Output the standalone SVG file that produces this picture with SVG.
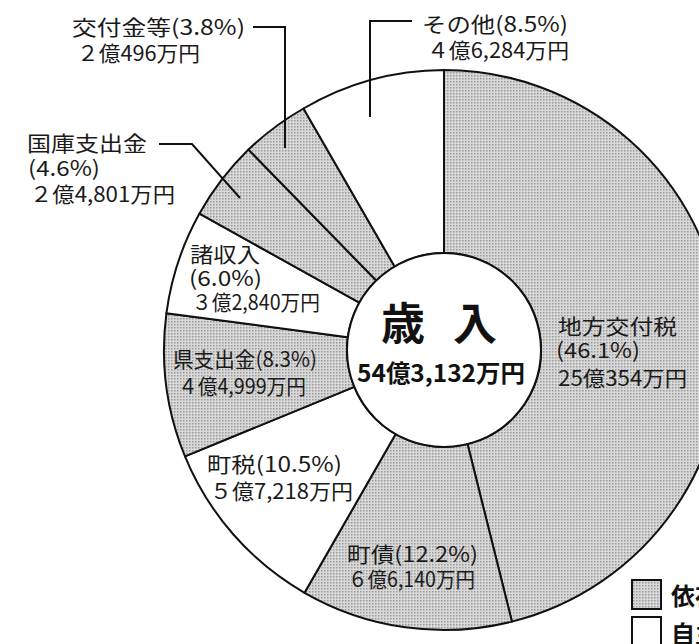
<svg xmlns="http://www.w3.org/2000/svg" width="699" height="644" viewBox="0 0 699 644">
<defs>
<pattern id="dots" width="3" height="3" patternUnits="userSpaceOnUse">
<rect width="3" height="3" fill="#d8d8d8"/>
<rect width="1.5" height="1.5" fill="#9a9a9a"/>
</pattern>
<style>
.sh{fill:url(#dots);stroke:#111;stroke-width:2;stroke-linejoin:round}
.wh{fill:#fff;stroke:#111;stroke-width:2;stroke-linejoin:round}
.lbl{font-family:"Noto Sans CJK JP","Noto Sans",sans-serif;font-size:21px;fill:#1a1a1a}
.big{font-family:"Noto Sans CJK JP","Noto Sans",sans-serif;font-weight:bold;fill:#111}
.ld{fill:none;stroke:#111;stroke-width:2}
</style>
</defs>
<rect width="699" height="644" fill="#fff"/>

<g id="s-chihoukoufuzei">
<path class="sh" d="M444,70 A280,280 0 0 1 511.93,621.64 L467.53,444.10 A97,97 0 0 0 444,253 Z"/>
<text class="lbl" x="558" y="334" textLength="119" lengthAdjust="spacingAndGlyphs">地方交付税</text>
<text class="lbl" x="556" y="358" textLength="84" lengthAdjust="spacingAndGlyphs">(46.1%)</text>
<text class="lbl" x="558" y="386" textLength="129" lengthAdjust="spacingAndGlyphs">25億354万円</text>
</g>

<g id="s-chousai">
<path class="sh" d="M511.93,621.64 A280,280 0 0 1 304.51,592.78 L395.68,434.11 A97,97 0 0 0 467.53,444.10 Z"/>
<text class="lbl" x="347" y="562" textLength="131" lengthAdjust="spacingAndGlyphs">町債(12.2%)</text>
<text class="lbl" x="348" y="587" textLength="127" lengthAdjust="spacingAndGlyphs">６億6,140万円</text>
</g>

<g id="s-chouzei">
<path class="wh" d="M304.51,592.78 A280,280 0 0 1 184.99,456.34 L354.27,386.84 A97,97 0 0 0 395.68,434.11 Z"/>
<text class="lbl" x="207" y="472" textLength="135" lengthAdjust="spacingAndGlyphs">町税(10.5%)</text>
<text class="lbl" x="210" y="499" textLength="143" lengthAdjust="spacingAndGlyphs">５億7,218万円</text>
</g>

<g id="s-kenshishutsukin">
<path class="sh" d="M184.99,456.34 A280,280 0 0 1 166.43,313.16 L347.84,337.24 A97,97 0 0 0 354.27,386.84 Z"/>
<text class="lbl" x="173" y="367" textLength="144" lengthAdjust="spacingAndGlyphs">県支出金(8.3%)</text>
<text class="lbl" x="178" y="394" textLength="128" lengthAdjust="spacingAndGlyphs">４億4,999万円</text>
</g>

<g id="s-shoshuunyuu">
<path class="wh" d="M166.43,313.16 A280,280 0 0 1 199.50,213.57 L359.30,302.74 A97,97 0 0 0 347.84,337.24 Z"/>
<text class="lbl" x="190" y="262" textLength="70" lengthAdjust="spacingAndGlyphs">諸収入</text>
<text class="lbl" x="189" y="286" textLength="73" lengthAdjust="spacingAndGlyphs">(6.0%)</text>
<text class="lbl" x="192" y="310" textLength="128" lengthAdjust="spacingAndGlyphs">３億2,840万円</text>
</g>

<g id="s-kokkoshishutsukin">
<path class="sh" d="M199.50,213.57 A280,280 0 0 1 248.48,149.58 L376.26,280.57 A97,97 0 0 0 359.30,302.74 Z"/>
<text class="lbl" x="27" y="151" textLength="120" lengthAdjust="spacingAndGlyphs">国庫支出金</text>
<text class="lbl" x="28" y="176" textLength="72" lengthAdjust="spacingAndGlyphs">(4.6%)</text>
<text class="lbl" x="30" y="202" textLength="145" lengthAdjust="spacingAndGlyphs">２億4,801万円</text>
</g>

<g id="s-koufukintou">
<path class="sh" d="M248.48,149.58 A280,280 0 0 1 303.5,108.5 L394.62,266.51 A97,97 0 0 0 376.26,280.57 Z"/>
<text class="lbl" x="72" y="35" textLength="173" lengthAdjust="spacingAndGlyphs">交付金等(3.8%)</text>
<text class="lbl" x="77" y="61" textLength="123" lengthAdjust="spacingAndGlyphs">２億496万円</text>
</g>

<g id="s-sonota">
<path class="wh" d="M303.5,108.5 A280,280 0 0 1 444,70 L444,253 A97,97 0 0 0 394.62,266.51 Z"/>
<text class="lbl" x="422" y="32" textLength="146" lengthAdjust="spacingAndGlyphs">その他(8.5%)</text>
<text class="lbl" x="427" y="58" textLength="142" lengthAdjust="spacingAndGlyphs">４億6,284万円</text>
</g>

<g id="center">
<circle cx="444" cy="350" r="97" fill="#fff" stroke="#111" stroke-width="2"/>
<text class="big" x="381" y="340" font-size="44">歳</text>
<text class="big" x="453" y="340" font-size="44">入</text>
<text class="big" x="357" y="382" font-size="24" textLength="168" lengthAdjust="spacingAndGlyphs">54億3,132万円</text>
</g>

<g id="connectors">
<polyline class="ld" points="253,27 285,27 285,148"/>
<polyline class="ld" points="159,144 192,144 240,198"/>
<polyline class="ld" points="412,21 370,21 370,117"/>
</g>

<g id="legend">
<rect x="632" y="580" width="29" height="29" fill="url(#dots)" stroke="#111" stroke-width="2"/>
<text class="big" x="671" y="605" font-size="24">依存財源</text>
<rect x="632" y="617" width="29" height="29" fill="#fff" stroke="#111" stroke-width="2"/>
<text class="big" x="671" y="643" font-size="24">自主財源</text>
</g>
</svg>
